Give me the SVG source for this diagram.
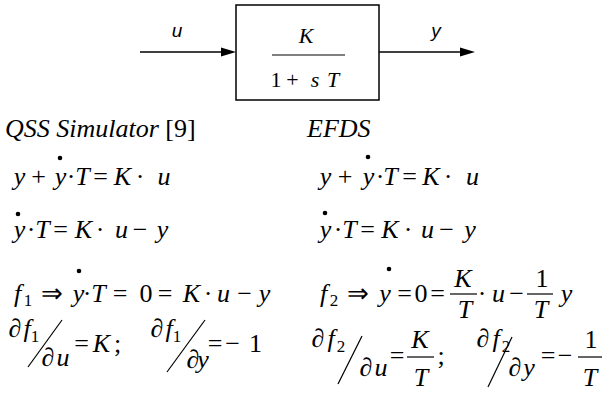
<svg xmlns="http://www.w3.org/2000/svg" width="604" height="394" viewBox="0 0 604 394">
<g id="connectors" stroke="#000" stroke-width="1.5">
<line x1="140" y1="52" x2="222" y2="52"/>
<polygon points="221,47.5 236,52 221,56.5" fill="#000" stroke="none"/>
<line x1="379" y1="52" x2="461" y2="52"/>
<polygon points="460,47.5 475,52 460,56.5" fill="#000" stroke="none"/>
</g>
<g id="labels" font-family="Liberation Sans" font-style="italic" font-size="19" text-anchor="middle">
<text x="177" y="37">u</text>
<text x="436" y="37">y</text>
</g>
<g id="block" font-family="Liberation Serif" font-size="22" text-anchor="middle">
<rect x="236" y="5" width="143" height="95" fill="none" stroke="#000" stroke-width="1.5"/>
<text x="306" y="43" font-style="italic">K</text>
<line x1="272" y1="55" x2="345" y2="55" stroke="#000" stroke-width="1.2"/>
<text y="87"><tspan x="276">1</tspan><tspan x="292.5">+</tspan><tspan x="315" font-style="italic">s</tspan><tspan x="333" font-style="italic">T</tspan></text>
</g>
<g id="qss" font-family="Liberation Serif" font-size="26">
<text x="5" y="137"><tspan font-style="italic">QSS Simulator</tspan> [9]</text>
<g text-anchor="middle">
<text y="185"><tspan x="19.5" font-style="italic">y</tspan><tspan x="38.5">+</tspan><tspan x="60.5" font-style="italic">y</tspan><tspan x="71">·</tspan><tspan x="82.5" font-style="italic">T</tspan><tspan x="100.5">=</tspan><tspan x="122.5" font-style="italic">K</tspan><tspan x="140">·</tspan><tspan x="164" font-style="italic">u</tspan></text>
<circle cx="60" cy="158" r="2.3"/>
<text y="238"><tspan x="19.5" font-style="italic">y</tspan><tspan x="31">·</tspan><tspan x="42.5" font-style="italic">T</tspan><tspan x="60.5">=</tspan><tspan x="83.5" font-style="italic">K</tspan><tspan x="100">·</tspan><tspan x="121.5" font-style="italic">u</tspan><tspan x="140">−</tspan><tspan x="162.5" font-style="italic">y</tspan></text>
<circle cx="18" cy="214" r="2.3"/>
<text y="302"><tspan x="17.5" font-style="italic">f</tspan><tspan x="28" y="306" font-size="17">1</tspan><tspan x="51.5" y="302">⇒</tspan><tspan x="78.5" font-style="italic">y</tspan><tspan x="87">·</tspan><tspan x="98.5" font-style="italic">T</tspan><tspan x="120">=</tspan><tspan x="146">0</tspan><tspan x="165">=</tspan><tspan x="191.5" font-style="italic">K</tspan><tspan x="208">·</tspan><tspan x="223.5" font-style="italic">u</tspan><tspan x="244.5">−</tspan><tspan x="264.5" font-style="italic">y</tspan></text>
<circle cx="79" cy="271" r="2.3"/>
<text y="337"><tspan x="15">∂</tspan><tspan x="27" font-style="italic">f</tspan><tspan x="35" y="342" font-size="17">1</tspan><tspan x="48" y="366">∂</tspan><tspan x="63" font-style="italic">u</tspan><tspan x="81.5" y="352">=</tspan><tspan x="101.5" font-style="italic">K</tspan><tspan x="117.5">;</tspan><tspan x="157" y="337">∂</tspan><tspan x="169" font-style="italic">f</tspan><tspan x="177" y="342" font-size="17">1</tspan><tspan x="193" y="368">∂</tspan><tspan x="203" font-style="italic">y</tspan><tspan x="215" y="352">=</tspan><tspan x="232.5">−</tspan><tspan x="255.5">1</tspan></text>
<line x1="28" y1="367" x2="62" y2="320" stroke="#000" stroke-width="1.2"/>
<line x1="167" y1="372" x2="205" y2="320" stroke="#000" stroke-width="1.2"/>
</g>
</g>
<g id="efds" font-family="Liberation Serif" font-size="26">
<text x="307" y="137" font-style="italic">EFDS</text>
<g text-anchor="middle">
<text y="185"><tspan x="325.5" font-style="italic">y</tspan><tspan x="345">+</tspan><tspan x="368.5" font-style="italic">y</tspan><tspan x="380">·</tspan><tspan x="390.5" font-style="italic">T</tspan><tspan x="409.5">=</tspan><tspan x="431" font-style="italic">K</tspan><tspan x="448">·</tspan><tspan x="472.5" font-style="italic">u</tspan></text>
<circle cx="368" cy="157" r="2.3"/>
<text y="238"><tspan x="325.5" font-style="italic">y</tspan><tspan x="338">·</tspan><tspan x="349.5" font-style="italic">T</tspan><tspan x="367.5">=</tspan><tspan x="390" font-style="italic">K</tspan><tspan x="408">·</tspan><tspan x="427.5" font-style="italic">u</tspan><tspan x="446.5">−</tspan><tspan x="470" font-style="italic">y</tspan></text>
<circle cx="325" cy="213" r="2.3"/>
<text y="302"><tspan x="323.5" font-style="italic">f</tspan><tspan x="334" y="306" font-size="17">2</tspan><tspan x="357.5" y="302">⇒</tspan><tspan x="385" font-style="italic">y</tspan><tspan x="404.5">=</tspan><tspan x="421">0</tspan><tspan x="437.5">=</tspan><tspan x="463" y="287" font-style="italic">K</tspan><tspan x="465" y="318" font-style="italic">T</tspan><tspan x="482" y="302">·</tspan><tspan x="498.5" font-style="italic">u</tspan><tspan x="516.5">−</tspan><tspan x="542" y="287">1</tspan><tspan x="541" y="318" font-style="italic">T</tspan><tspan x="566.5" y="302" font-style="italic">y</tspan></text>
<circle cx="389" cy="269" r="2.3"/>
<line x1="450" y1="294" x2="477" y2="294" stroke="#000" stroke-width="1.2"/>
<line x1="527" y1="294" x2="553" y2="294" stroke="#000" stroke-width="1.2"/>
<text y="347"><tspan x="318">∂</tspan><tspan x="331" font-style="italic">f</tspan><tspan x="341" y="352" font-size="17">2</tspan><tspan x="366" y="376">∂</tspan><tspan x="381" font-style="italic">u</tspan><tspan x="397" y="364">=</tspan><tspan x="420" y="348" font-style="italic">K</tspan><tspan x="421" y="386" font-style="italic">T</tspan><tspan x="441" y="364">;</tspan><tspan x="483" y="347">∂</tspan><tspan x="496" font-style="italic">f</tspan><tspan x="506" y="352" font-size="17">2</tspan><tspan x="515" y="376">∂</tspan><tspan x="529" font-style="italic">y</tspan><tspan x="548" y="364">=</tspan><tspan x="565">−</tspan><tspan x="591" y="348">1</tspan><tspan x="590" y="386" font-style="italic">T</tspan></text>
<line x1="338" y1="384" x2="362" y2="336" stroke="#000" stroke-width="1.2"/>
<line x1="407" y1="357" x2="434" y2="357" stroke="#000" stroke-width="1.2"/>
<line x1="488" y1="387" x2="512" y2="337" stroke="#000" stroke-width="1.2"/>
<line x1="578" y1="357" x2="602" y2="357" stroke="#000" stroke-width="1.2"/>
</g>
</g>
</svg>
